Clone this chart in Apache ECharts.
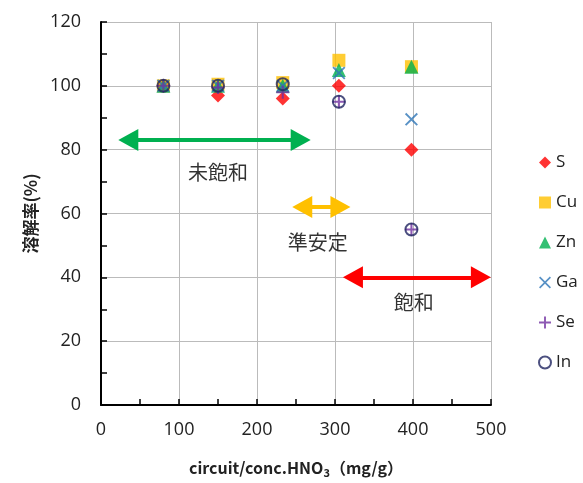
<!DOCTYPE html>
<html><head><meta charset="utf-8">
<script src="https://cdn.jsdelivr.net/npm/echarts@6/dist/echarts.min.js"></script>
<style>html,body{margin:0;padding:0;background:#fff}#c{width:583px;height:483px}</style>
</head><body><div id="c"></div>
<script>
const xS  = [80, 150, 233, 305, 398];
const S   = [100, 97, 96, 100, 80];
const Cu  = [100, 100.5, 101, 108, 106];
const Zn  = [100, 100, 100, 105, 106];
const Ga  = [100, 100, 100, 104, 89.5];
const Se  = [100, 99.5, 98, 95, 55];
const In  = [100, 100, 100.5, 95, 55];
const arrows = [
  {name:'未飽和', from:[35, 83], to:[256, 83], color:'#00B050', label:[150, 73]},
  {name:'準安定', from:[258, 62], to:[307, 62], color:'#FFC000', label:[278, 51]},
  {name:'飽和', from:[323, 40], to:[487, 40], color:'#FF0000', label:[401, 32]}
];
const xTicks = [0, 500, 100];
const yTicks = [0, 120, 20];

const pair = (ys) => xS.map((x,i)=>[x, ys[i]]);
const crossPath = 'path://M1,0 L5,4 L9,0 L10,1 L6,5 L10,9 L9,10 L5,6 L1,10 L0,9 L4,5 L0,1 Z';
const plusPath = 'path://M4.2,0 H5.8 V4.2 H10 V5.8 H5.8 V10 H4.2 V5.8 H0 V4.2 H4.2 Z';
const font = '"Noto Sans CJK JP", "Noto Sans", sans-serif';
const numFont = '"Open Sans", sans-serif';

const chart = echarts.init(document.getElementById('c'));
const series = [
  {name:'S', type:'scatter', data:pair(S), symbol:'diamond', symbolSize:14, itemStyle:{color:'#FF0000'}},
  {name:'Cu', type:'scatter', data:pair(Cu), symbol:'rect', symbolSize:13, itemStyle:{color:'#FFC000'}},
  {name:'Zn', type:'scatter', data:pair(Zn), symbol:'triangle', symbolSize:14, itemStyle:{color:'#00B050'}},
  {name:'Ga', type:'scatter', data:pair(Ga), symbol:crossPath, symbolSize:13, itemStyle:{color:'#2E75B6'}},
  {name:'Se', type:'scatter', data:pair(Se), symbol:plusPath, symbolSize:13, itemStyle:{color:'#7030A0'}},
  {name:'In', type:'scatter', data:pair(In), symbol:'circle', symbolSize:12, itemStyle:{color:'rgba(0,0,0,0)', borderColor:'#1F2460', borderWidth:2}},
  {name:'arrows', type:'scatter', data:arrows.map(a=>a.label), symbolSize:0, silent:true,
    label:{show:true, position:'inside', formatter:(p)=>arrows[p.dataIndex].name, fontFamily:font, fontSize:20, color:'#000'},
    markLine:{silent:true, symbol:['triangle','triangle'], symbolSize:[22,20], label:{show:false},
      data: arrows.map(a=>[{coord:a.from, lineStyle:{color:a.color, width:4, type:'solid'}, itemStyle:{color:a.color}}, {coord:a.to}])}
  }
];
chart.setOption({
  animation:false,
  backgroundColor:'#fff',
  grid:{left:101, right:92, top:22, bottom:77},
  legend:{orient:'vertical', left:533, top:149, itemGap:23, itemWidth:12, itemHeight:12,
    data:['S','Cu','Zn','Ga','Se','In'], textStyle:{fontSize:17, color:'#222', fontFamily:numFont}},
  xAxis:{type:'value', min:xTicks[0], max:xTicks[1], interval:xTicks[2],
    name:'{a|circuit/conc.HNO}{s|3}{a|（mg/g）}', nameLocation:'middle', nameGap:52,
    nameTextStyle:{rich:{a:{fontSize:16, fontWeight:'bold', color:'#222', fontFamily:font}, s:{fontSize:11, fontWeight:'bold', color:'#222', padding:[10,0,0,0], fontFamily:font}}},
    axisLine:{lineStyle:{color:'#000', width:2}},
    axisTick:{show:true, inside:true, length:6, lineStyle:{color:'#000', width:1.5}},
    minorTick:{show:true, splitNumber:2, length:6, lineStyle:{color:'#000', width:1.5}},
    axisLabel:{fontSize:18, color:'#222', margin:16, fontFamily:numFont},
    splitLine:{show:true, lineStyle:{color:'#bbb', width:1}}},
  yAxis:{type:'value', min:yTicks[0], max:yTicks[1], interval:yTicks[2],
    name:'溶解率(%)', nameLocation:'middle', nameGap:60, nameRotate:90,
    nameTextStyle:{fontSize:17, fontWeight:'bold', color:'#222', fontFamily:font},
    axisLine:{show:true, lineStyle:{color:'#000', width:2}},
    axisTick:{show:true, inside:true, length:6, lineStyle:{color:'#000', width:1.5}},
    minorTick:{show:true, splitNumber:2, length:6, lineStyle:{color:'#000', width:1.5}},
    axisLabel:{fontSize:18, color:'#222', margin:20, fontFamily:numFont},
    splitLine:{show:true, lineStyle:{color:'#bbb', width:1}}},
  series
});
</script></body></html>
